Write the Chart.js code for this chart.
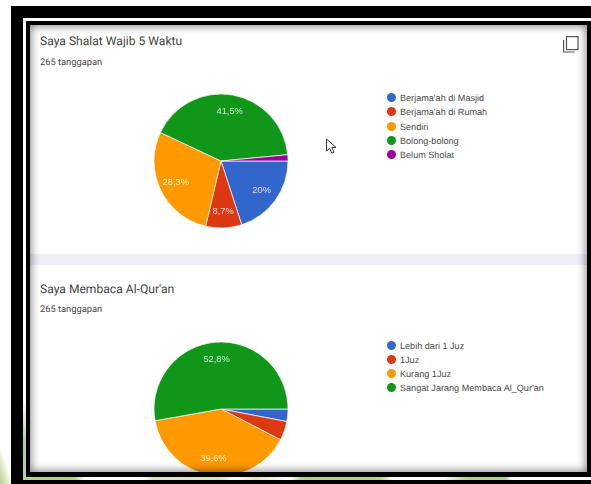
<!DOCTYPE html>
<html>
<head>
<meta charset="utf-8">
<script src="https://cdn.jsdelivr.net/npm/chart.js@4"></script>
<style>
  html, body { margin: 0; padding: 0; background: #fff; }
  #page { position: relative; width: 591px; height: 484px; overflow: hidden; background: #fff; filter: blur(0.45px); text-rendering: geometricPrecision; }
  .abs { position: absolute; }
  .title { position: absolute; left: 40px; font: 12.1px Roboto, sans-serif; color: #444; white-space: nowrap; }
  .sub { position: absolute; left: 40px; font: 9.3px Roboto, sans-serif; color: #444; white-space: nowrap; }
  .legend { position: absolute; left: 387px; font: 9.1px "Liberation Sans", sans-serif; color: #4a4a4a; }
  .legend div { height: 14.3px; line-height: 14.3px; white-space: nowrap; }
  .legend i { display: inline-block; width: 9px; height: 9px; border-radius: 50%; margin-right: 4px; vertical-align: -1px; }
  canvas { position: absolute; }
</style>
</head>
<body>
<div id="page">
  <!-- greenish bits of the page behind the screenshot -->
  <div class="abs" style="left:0;top:450px;width:11px;height:34px;background:linear-gradient(to top right,#b9cf8f 0,#dfe9c8 35%,#fff 60%)"></div>

  <!-- frame -->
  <div class="abs" style="left:11px;top:6px;width:580px;height:478px;background:#000"></div>
  <div class="abs" style="left:23px;top:18px;width:568px;height:462px;background:#fff"></div>
  <div class="abs" style="left:23px;top:400px;width:3px;height:80px;background:linear-gradient(to bottom,#fff,#b9cf8f 50%)"></div>
  <div class="abs" style="left:23px;top:477px;width:568px;height:3px;background:linear-gradient(to right,#b9cf8f 0,#b9cf8f 9%,#fff 11%,#fff 21%,#dbe4bd 23%,#dbe4bd 35%,#fff 37%,#dde5bf 41%,#fff 47%,#b9cf8f 49%,#b9cf8f 63%,#fff 65%,#fff 74%,#b9cf8f 78%,#b9cf8f 85%,#fff 86%)"></div>
  <div class="abs" style="left:26px;top:21px;width:565px;height:456px;background:#000"></div>

  <!-- content -->
  <div class="abs" id="content" style="left:30px;top:25px;width:557px;height:447px;background:#fff;overflow:hidden"></div>
  <div class="abs" style="left:30px;top:254px;width:557px;height:11px;background:#eeedf8"></div>

  <div class="title" style="top:34px">Saya Shalat Wajib 5 Waktu</div>
  <div class="sub" style="top:56.5px">265 tanggapan</div>
  <div class="title" style="top:282px">Saya Membaca Al-Qur'an</div>
  <div class="sub" style="top:304px">265 tanggapan</div>

  <div class="legend" id="legend1" style="top:91px"></div>
  <div class="legend" id="legend2" style="top:338.5px"></div>

  <canvas id="pie1" class="abs" width="140" height="140" style="left:151px;top:91px"></canvas>
  <div class="abs" style="left:151px;top:339px;width:140px;height:133px;overflow:hidden">
    <canvas id="pie2" width="140" height="140" style="left:0;top:0"></canvas>
  </div>

  <!-- copy icon -->
  <svg class="abs" style="left:562px;top:35px" width="18" height="19" fill="none" stroke="#555" stroke-width="1.2">
    <rect x="4.5" y="1.6" width="11.5" height="13"/>
    <path d="M1.6 5v12h11"/>
  </svg>
  <!-- mouse pointer -->
  <svg class="abs" style="left:325px;top:138px" width="13" height="17">
    <path d="M1.5 1 L1.5 13 L4.6 10.4 L6.8 15.2 L9 14.2 L6.9 9.6 L11 9.4 Z" fill="#fff" stroke="#333" stroke-width="1"/>
  </svg>

  <!-- soft shadow on the inside of the screenshot -->
  <div class="abs" style="left:30px;top:25px;width:557px;height:447px;box-shadow:inset 0 0 8px 1px rgba(0,0,0,0.5)"></div>
</div>

<script>
const colors = ["#3366cc", "#dc3912", "#ff9900", "#109618", "#990099"];

const labels1 = ["Berjama'ah di Masjid", "Berjama'ah di Rumah", "Sendiri", "Bolong-bolong", "Belum Sholat"];
const values1 = [20, 8.7, 28.3, 41.5, 1.5];
const shown1 = ["20%", "8,7%", "28,3%", "41,5%", null];

const labels2 = ["Lebih dari 1 Juz", "1Juz", "Kurang 1Juz", "Sangat Jarang Membaca Al_Qur'an"];
const values2 = [3, 4.6, 39.6, 52.8];
const shown2 = [null, null, "39,6%", "52,8%"];

// percent text inside the slices, chart.js has no built in data labels
const sliceText = {
  id: "sliceText",
  afterDatasetsDraw(chart) {
    const ctx = chart.ctx;
    const shown = chart.options.plugins.sliceText.shown;
    ctx.save();
    ctx.font = '9.3px "Liberation Sans", sans-serif';
    ctx.fillStyle = "rgba(255,255,255,0.8)";
    ctx.textAlign = "center";
    ctx.textBaseline = "middle";
    chart.getDatasetMeta(0).data.forEach((arc, i) => {
      if (!shown[i]) return;
      const mid = (arc.startAngle + arc.endAngle) / 2;
      const r = arc.outerRadius * 0.75;
      ctx.fillText(shown[i], arc.x + Math.cos(mid) * r, arc.y + Math.sin(mid) * r);
    });
    ctx.restore();
  },
};

function drawPie(id, labels, values, shown) {
  new Chart(document.getElementById(id), {
    type: "pie",
    data: {
      labels: labels,
      datasets: [{
        data: values,
        backgroundColor: colors.slice(0, values.length),
        borderColor: "#fff",
        borderWidth: 0.7,
        radius: 67,
      }],
    },
    options: {
      responsive: false,
      animation: false,
      rotation: 90,
      layout: { padding: 0 },
      plugins: {
        legend: { display: false },
        tooltip: { enabled: false },
        sliceText: { shown: shown },
      },
    },
    plugins: [sliceText],
  });
}

function drawLegend(id, labels) {
  const box = document.getElementById(id);
  labels.forEach((text, i) => {
    const row = document.createElement("div");
    const dot = document.createElement("i");
    dot.style.background = colors[i];
    row.appendChild(dot);
    row.appendChild(document.createTextNode(text));
    box.appendChild(row);
  });
}

drawPie("pie1", labels1, values1, shown1);
drawPie("pie2", labels2, values2, shown2);
drawLegend("legend1", labels1);
drawLegend("legend2", labels2);
</script>
</body>
</html>
